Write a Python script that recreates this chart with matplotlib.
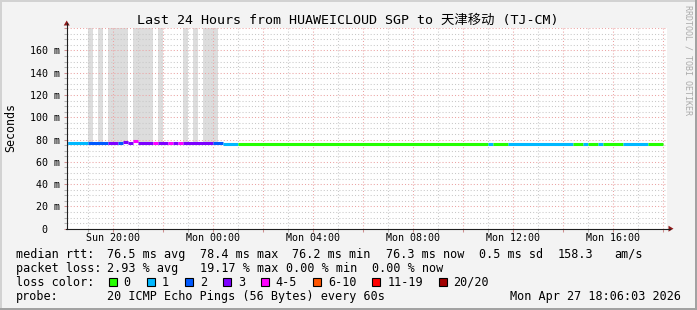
import matplotlib
matplotlib.use("Agg")
import matplotlib.pyplot as plt
from matplotlib.patches import Rectangle, Polygon
from matplotlib.lines import Line2D
from matplotlib.ticker import FixedLocator, MultipleLocator

# ---------------- data ----------------
# time axis in hours since Sunday 00:00 (graph ends Mon 18:06)
t_start = 18.136
t_end = 42.136

# median RTT segments (12-minute steps): start hour, rtt (ms), lost pings of 20
seg_start = [18.0, 18.2, 19.0, 19.8, 20.2, 20.4, 20.6, 20.8, 21.0, 21.6,
             21.8, 22.2, 22.4, 22.6, 22.8, 24.0, 24.4, 25.0, 35.0, 35.2,
             35.8, 38.4, 38.8, 39.0, 39.4, 39.6, 40.4, 41.4]
seg_end = seg_start[1:] + [42.0]
seg_rtt = [77.3, 77.3, 77.3, 77.3, 77.3, 78.2, 76.5, 78.4, 77.3, 77.3,
           77.3, 77.3, 77.3, 77.3, 77.3, 77.3, 76.4, 76.2, 76.2, 76.2,
           76.3, 76.2, 76.3, 76.2, 76.3, 76.2, 76.3, 76.2]
seg_loss = [2, 1, 2, 3, 2, 3, 3, 5, 3, 5,
            3, 5, 3, 5, 3, 2, 1, 0, 1, 0,
            1, 0, 1, 0, 1, 0, 1, 0]

# smoke (ping spread reaching far above the median)
smoke_start = [19.0, 19.4, 19.8, 20.8, 21.8, 22.8, 23.2, 23.6]
smoke_end = [19.2, 19.6, 20.6, 21.6, 22.0, 23.0, 23.4, 24.2]
smoke_low = 77.0
smoke_high = 400.0

# loss colour legend
loss_labels = ["0", "1", "2", "3", "4-5", "6-10", "11-19", "20/20"]
loss_max = [0, 1, 2, 3, 5, 10, 19, 20]
loss_colors = ["#26ff00", "#00b8ff", "#0059ff", "#7e00ff",
               "#ff00ff", "#ff5500", "#ff0000", "#a10000"]

xtick_hours = [20, 24, 28, 32, 36, 40]
xtick_labels = ["Sun 20:00", "Mon 00:00", "Mon 04:00", "Mon 08:00",
                "Mon 12:00", "Mon 16:00"]
ytick_values = [0, 20, 40, 60, 80, 100, 120, 140, 160]
ytick_labels = ["0  ", "20 m", "40 m", "60 m", "80 m", "100 m", "120 m",
                "140 m", "160 m"]

title = "Last 24 Hours from HUAWEICLOUD SGP to 天津移动 (TJ-CM)"
rtt_stats = [("76.5", "avg"), ("78.4", "max"), ("76.2", "min"), ("76.3", "now")]
rtt_sd = "0.5"
rtt_am = "158.3"
loss_stats = [("2.93", "avg"), ("19.17", "max"), ("0.00", "min"), ("0.00", "now")]
probe_text = "20 ICMP Echo Pings (56 Bytes) every 60s"
stamp_text = "Mon Apr 27 18:06:03 2026"

# ---------------- figure ----------------
W, H = 697, 310
fig = plt.figure(figsize=(W / 100, H / 100), dpi=100)
fig.patch.set_facecolor("#f3f3f3")


def fx(x):
    return x / W


def fy(y):
    return 1 - y / H


MONO = "DejaVu Sans Mono"

# border shading
fig.add_artist(Rectangle((0, fy(2)), 1, 2 / H, transform=fig.transFigure,
                         color="#d2d2d2", lw=0))
fig.add_artist(Rectangle((0, 0), 2 / W, 1, transform=fig.transFigure,
                         color="#d2d2d2", lw=0))
fig.add_artist(Rectangle((0, 0), 1, 2.5 / H, transform=fig.transFigure,
                         color="#a2a2a2", lw=0))
fig.add_artist(Rectangle((fx(694.5), 0), 2.5 / W, 1, transform=fig.transFigure,
                         color="#a2a2a2", lw=0))

ax_l, ax_r, ax_t, ax_b = 66.7, 666.7, 28.2, 228.7
ax = fig.add_axes([fx(ax_l), fy(ax_b), (ax_r - ax_l) / W, (ax_b - ax_t) / H])
ax.set_facecolor("white")
ax.set_xlim(t_start, t_end)
ax.set_ylim(0, 180)
for s in ax.spines.values():
    s.set_visible(False)

# smoke
for s0, s1 in zip(smoke_start, smoke_end):
    ax.bar(s0, smoke_high - smoke_low, width=s1 - s0, bottom=smoke_low,
           align="edge", color="#dddddd", lw=0, zorder=1)


def loss_color(n):
    for m, c in zip(loss_max, loss_colors):
        if n <= m:
            return c
    return loss_colors[-1]


# median line
for s0, s1, r, n in zip(seg_start, seg_end, seg_rtt, seg_loss):
    ax.hlines(r, s0, s1, colors=loss_color(n), lw=2.2, zorder=3,
              capstyle="butt")

# grid / ticks
major_x = list(range(20, 43, 2))
ax.xaxis.set_major_locator(FixedLocator(major_x))
ax.xaxis.set_minor_locator(MultipleLocator(1))
ax.set_xticklabels([xtick_labels[xtick_hours.index(h)] if h in xtick_hours else ""
                    for h in major_x])
ax.yaxis.set_major_locator(FixedLocator(list(range(0, 181, 20))))
ax.yaxis.set_minor_locator(MultipleLocator(5))
ax.set_yticklabels([ytick_labels[ytick_values.index(v)] if v in ytick_values else ""
                    for v in range(0, 181, 20)])

ax.set_axisbelow("line")
ax.grid(which="major", color="#eba3a3", lw=0.75, ls=(0, (1.0, 2.0)))
ax.grid(which="minor", color="#c8c8c8", lw=0.75, ls=(0, (1.0, 2.0)))

ax.tick_params(which="both", direction="out", length=2.2, width=0.75)
ax.tick_params(which="major", color="#d09090")
ax.tick_params(which="minor", color="#b4b4b4")
ax.tick_params(axis="x", which="major", pad=1.0, labelsize=7.2)
ax.tick_params(axis="y", which="major", pad=2.6, labelsize=7.2)
for lab in ax.get_xticklabels() + ax.get_yticklabels():
    lab.set_family(MONO)

# axes lines + arrows
axis_col = "#202020"
fig.add_artist(Line2D([fx(ax_l), fx(ax_l)], [fy(ax_b + 0.3), fy(23)],
                      transform=fig.transFigure, color=axis_col, lw=0.8))
fig.add_artist(Line2D([fx(ax_l - 0.3), fx(670)], [fy(ax_b), fy(ax_b)],
                      transform=fig.transFigure, color=axis_col, lw=0.8))
arrow_col = "#8e1a1a"
fig.add_artist(Polygon([[fx(ax_l - 3), fy(25.5)], [fx(ax_l + 3), fy(25.5)],
                        [fx(ax_l), fy(20.5)]], closed=True,
                       transform=fig.transFigure, color=arrow_col, lw=0))
fig.add_artist(Polygon([[fx(668.5), fy(ax_b - 3)], [fx(668.5), fy(ax_b + 3)],
                        [fx(673.5), fy(ax_b)]], closed=True,
                       transform=fig.transFigure, color=arrow_col, lw=0))

# title, labels, watermark
fig.text(fx(348), fy(20), title, ha="center", va="center", fontsize=9.6,
         family=[MONO, "Noto Sans CJK SC"])
fig.text(fx(10.5), fy(127.5), "Seconds", rotation=90, ha="center",
         va="center", fontsize=8.4, family=MONO)
fig.text(fx(688), fy(5), "RRDTOOL / TOBI OETIKER", rotation=270,
         ha="center", va="top", fontsize=6, family=MONO, color="#ababab")

# legend rows
FS = 8.45
CW = 7.07
rows_y = [254.3, 268.3, 282.3, 296.3]


def t(x, y, s, **kw):
    fig.text(fx(x), fy(y), s, ha="left", va="center", fontsize=FS,
             family=MONO, **kw)


t(16, rows_y[0], "median rtt:")
for x, (v, k) in zip([107, 200, 292, 386], rtt_stats):
    t(x, rows_y[0], f"{v} ms {k}")
t(479, rows_y[0], f"{rtt_sd} ms sd")
t(558, rows_y[0], rtt_am)
t(614, rows_y[0], "am/s")

t(16, rows_y[1], "packet loss:")
for x, (v, k) in zip([107, 200, 286, 372], loss_stats):
    t(x, rows_y[1], f"{v} % {k}")

t(16, rows_y[2], "loss color:")
bx = 108.5
for lab, col in zip(loss_labels, loss_colors):
    fig.add_artist(Rectangle((fx(bx), fy(rows_y[2] + 4)), 8 / W, 8 / H,
                             transform=fig.transFigure, facecolor=col,
                             edgecolor="black", lw=0.8))
    t(bx + 15, rows_y[2], lab)
    bx += 15 + len(lab) * CW + 16

t(16, rows_y[3], "probe:")
t(107, rows_y[3], probe_text)
fig.text(fx(681), fy(rows_y[3]), stamp_text, ha="right", va="center",
         fontsize=FS, family=MONO)

fig.savefig("out.png", dpi=100, facecolor=fig.get_facecolor())
